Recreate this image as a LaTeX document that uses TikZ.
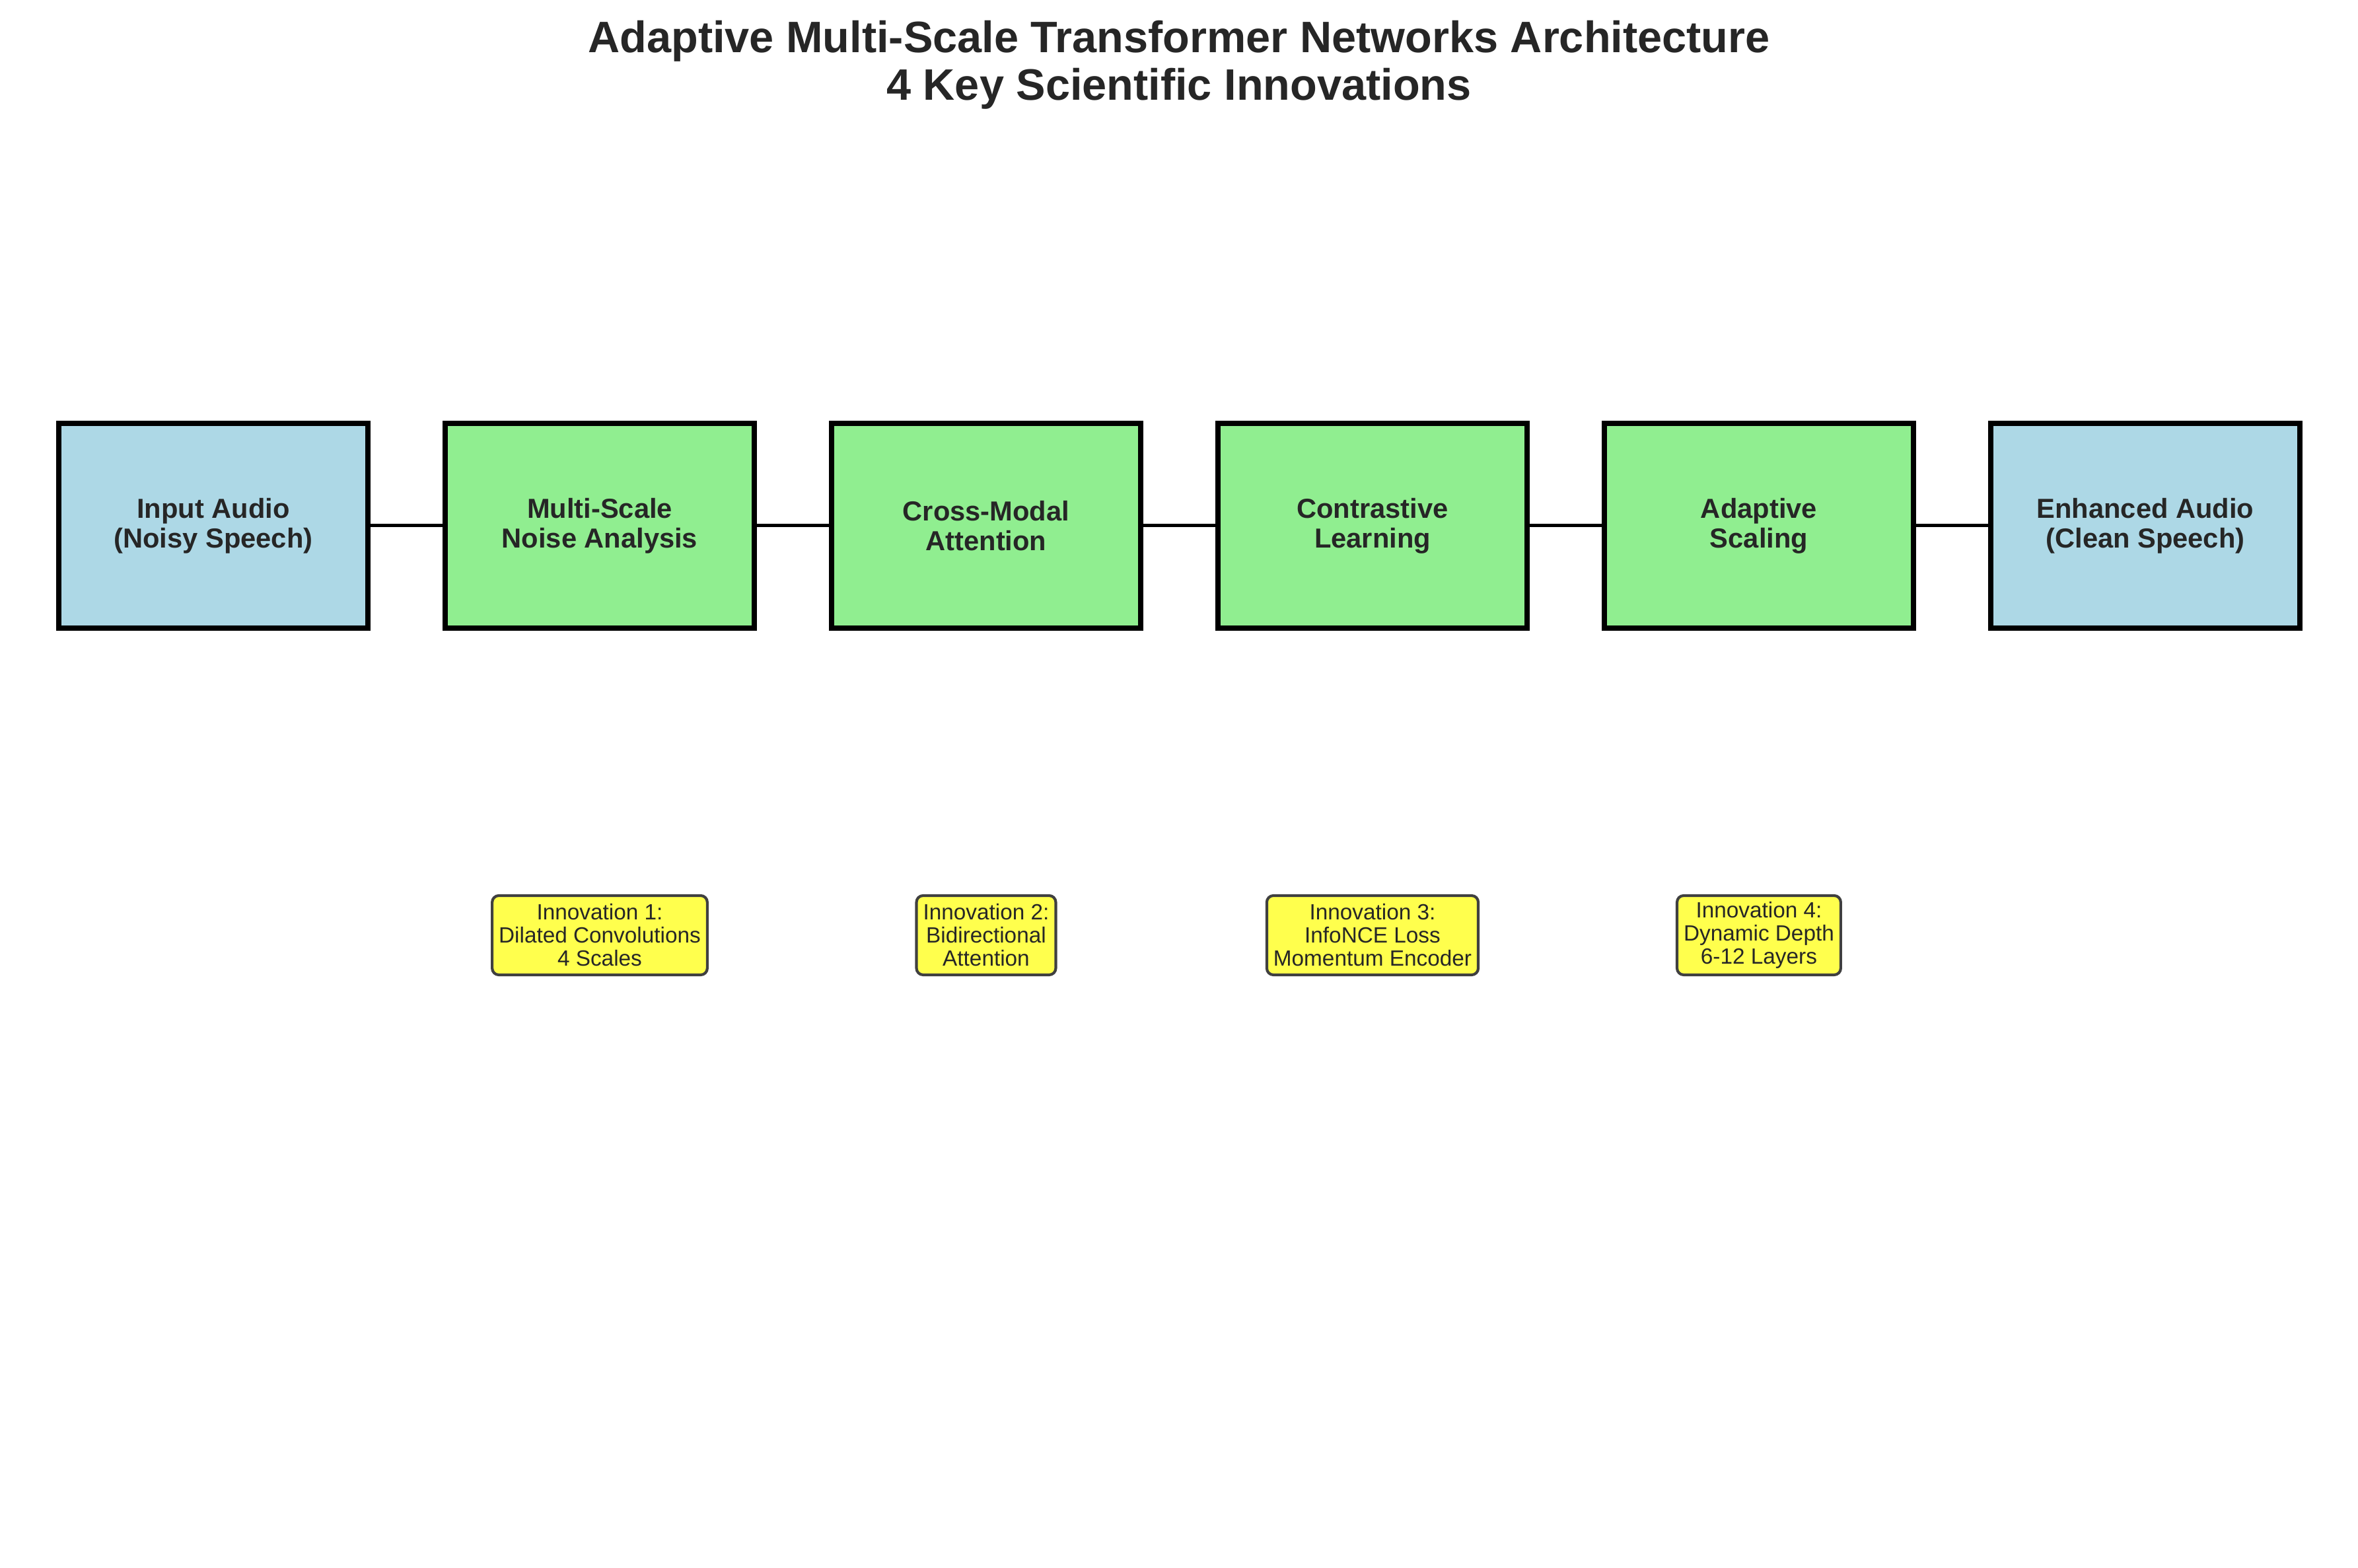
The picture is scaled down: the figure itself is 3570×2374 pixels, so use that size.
\documentclass[tikz,border=0pt]{standalone}
\usepackage{fontspec}
\setmainfont{Liberation Sans}
\definecolor{lightblue}{HTML}{ADD8E6}
\definecolor{lightgreen}{HTML}{90EE90}
\definecolor{notefill}{HTML}{FFFF4D}
\definecolor{textgray}{HTML}{262626}

\begin{document}
\begin{tikzpicture}[x=0.24pt,y=-0.24pt,node distance=140.4pt,
                    main node/.style={rectangle,draw=black,line width=2pt,fill=lightgreen,
                      minimum width=112.3pt,minimum height=74.4pt,align=center,text=textgray,
                      font=\fontsize{10}{10.8}\selectfont\bfseries},
                    io node/.style={main node,fill=lightblue},
                    note node/.style={rectangle,rounded corners=2.4pt,draw=black!75,line width=1pt,
                      fill=notefill,inner xsep=2.4pt,inner ysep=1pt,minimum height=28.8pt,align=center,
                      text=textgray,font=\fontsize{8}{8.4}\selectfont}]

  \useasboundingbox (0,0) rectangle (3570,2374);

  \node[align=center,anchor=north,inner sep=0pt,text=textgray,
        font=\fontsize{16}{17.3}\selectfont\bfseries] (title) at (1785,30)
        {Adaptive Multi-Scale Transformer Networks Architecture\\4 Key Scientific Innovations};

  \node[io node] (1) at (323,796) {Input Audio\\(Noisy Speech)};
  \node[main node] (2) [right of=1] {Multi-Scale\\Noise Analysis};
  \node[main node] (3) [right of=2] {Cross-Modal\\Attention};
  \node[main node] (4) [right of=3] {Contrastive\\Learning};
  \node[main node] (5) [right of=4] {Adaptive\\Scaling};
  \node[io node] (6) [right of=5] {Enhanced Audio\\(Clean Speech)};

  \node[note node] (7) [below of=2,node distance=148.8pt] {Innovation 1:\\Dilated Convolutions\\4 Scales};
  \node[note node] (8) [below of=3,node distance=148.8pt] {Innovation 2:\\Bidirectional\\Attention};
  \node[note node] (9) [below of=4,node distance=148.8pt] {Innovation 3:\\InfoNCE Loss\\Momentum Encoder};
  \node[note node] (10) [below of=5,node distance=148.8pt] {Innovation 4:\\Dynamic Depth\\6-12 Layers};

  \path[line width=1.2pt]
    (1) edge (2)
    (2) edge (3)
    (3) edge (4)
    (4) edge (5)
    (5) edge (6);
\end{tikzpicture}
\end{document}
